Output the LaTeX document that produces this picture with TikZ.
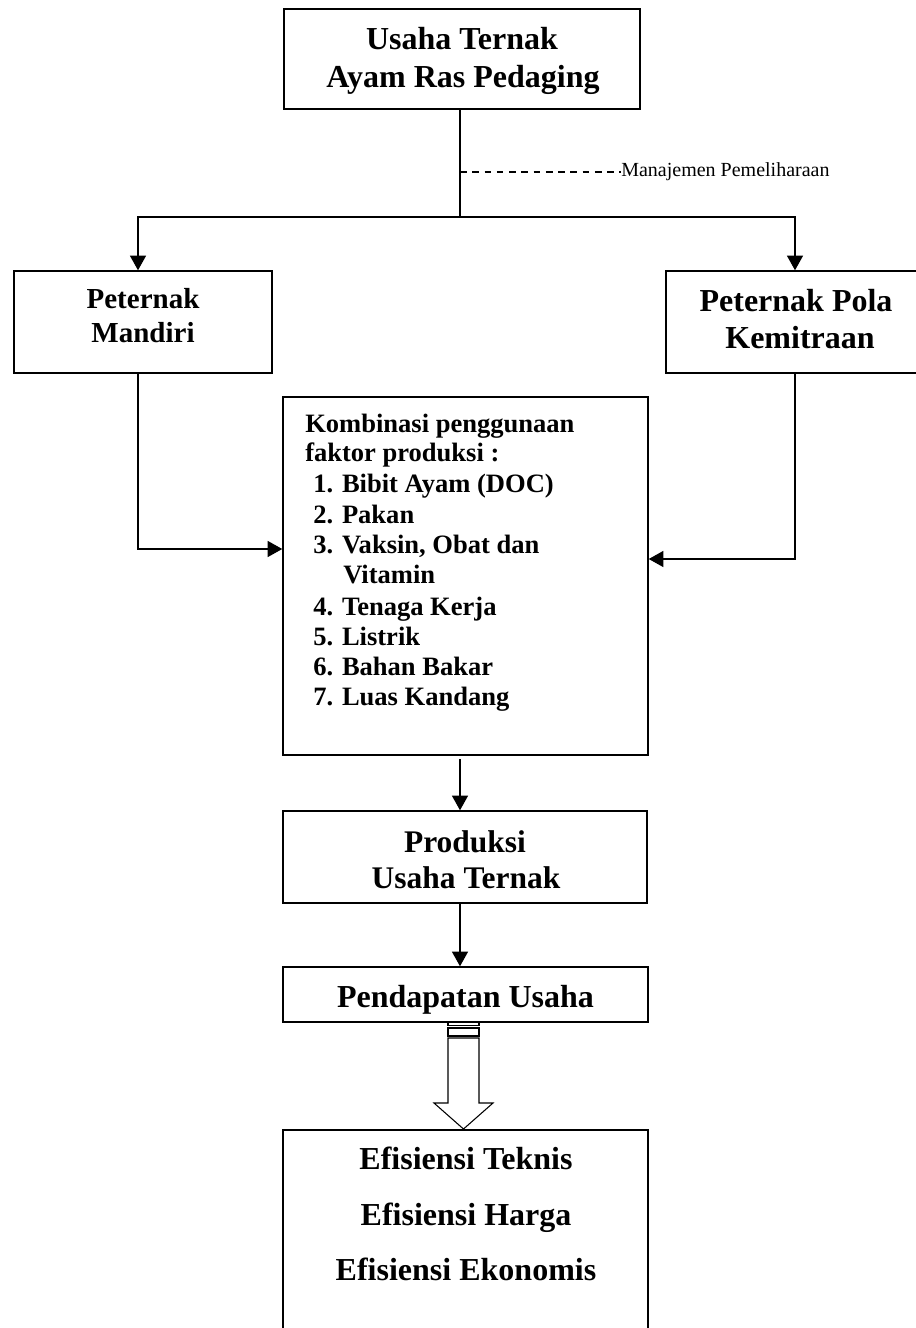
\documentclass[tikz,border=0pt]{standalone}
\usepackage{fontspec}
\setmainfont{Liberation Serif}
\usetikzlibrary{arrows.meta,fit}
\newcommand\fsz[1]{\fontsize{#1}{#1}\selectfont}
\begin{document}
\begin{tikzpicture}[x=0.75pt,y=-0.75pt,
  box/.style={draw,line width=1.1pt,inner sep=0pt},
  conn/.style={line width=1.1pt},
  arr/.style={line width=1.1pt,-{Triangle[length=11pt,width=12pt]}},
  txt/.style={inner sep=0pt,anchor=base,font=\bfseries},
  ltxt/.style={inner sep=0pt,anchor=base west,font=\bfseries\fsz{19.9pt}},
  blk/.style={draw,line width=0.8pt,fill=white}
]
\useasboundingbox (0,0) rectangle (915,1328);

% boxes
\node[box,fit={(284,9)(640,109)}] (top) {};
\node[box,fit={(14,271)(272,373)}] (mandiri) {};
\node[box,fit={(666,271)(922,373)}] (mitra) {};
\node[box,fit={(283,397)(648,755)}] (komb) {};
\node[box,fit={(283,811)(647,903)}] (prod) {};
\node[box,fit={(283,967)(648,1022)}] (pend) {};
\node[box,fit={(283,1130)(648,1345)}] (efis) {};

% texts
\node[txt,font=\bfseries\fsz{24pt}] (t1) at (462,49) {Usaha Ternak};
\node[txt,font=\bfseries\fsz{24pt}] (t2) at (463,87) {Ayam Ras Pedaging};
\node[txt,font=\bfseries\fsz{21.75pt}] (m1) at (143,308) {Peternak};
\node[txt,font=\bfseries\fsz{21.75pt}] (m2) at (143,342) {Mandiri};
\node[txt,font=\bfseries\fsz{24pt}] (k1) at (796,311) {Peternak Pola};
\node[txt,font=\bfseries\fsz{24pt}] (k2) at (800,348) {Kemitraan};

\node[ltxt] (c1) at (305,432) {Kombinasi penggunaan};
\node[ltxt] (c2) at (305,461) {faktor produksi :};
\node[ltxt] (c3) at (313,492) {1. Bibit Ayam (DOC)};
\node[ltxt] (c4) at (313,523) {2. Pakan};
\node[ltxt] (c5) at (313,553) {3. Vaksin, Obat dan};
\node[ltxt] (c6) at (343,583) {Vitamin};
\node[ltxt] (c7) at (313,615) {4. Tenaga Kerja};
\node[ltxt] (c8) at (313,645) {5. Listrik};
\node[ltxt] (c9) at (313,675) {6. Bahan Bakar};
\node[ltxt] (c10) at (313,705) {7. Luas Kandang};

\node[txt,font=\bfseries\fsz{23.6pt}] (p1) at (465,852) {Produksi};
\node[txt,font=\bfseries\fsz{23.6pt}] (p2) at (466,888) {Usaha Ternak};
\node[txt,font=\bfseries\fsz{24pt}] (pd) at (465.5,1007) {Pendapatan Usaha};
\node[txt,font=\bfseries\fsz{24pt}] (e1) at (466,1169) {Efisiensi Teknis};
\node[txt,font=\bfseries\fsz{24pt}] (e2) at (466,1225) {Efisiensi Harga};
\node[txt,font=\bfseries\fsz{24pt}] (e3) at (466,1280) {Efisiensi Ekonomis};

\node[inner sep=0pt,anchor=west,font=\fsz{15pt}] (mp) at (621,172) {Manajemen Pemeliharaan};

% connectors
\coordinate (s0) at (460,109);
\coordinate (s1) at (460,217);
\coordinate (d0) at (460,172);
\coordinate (lj) at (138,217);
\coordinate (rj) at (795,217);
\draw[conn] (s0) -- (s1);
\draw[line width=0.9pt,dash pattern=on 5pt off 4.2pt] (d0) -- (mp.west);
\draw[arr] (s1) -- (lj) -- (lj |- mandiri.north);
\draw[arr] (s1) -- (rj) -- (rj |- mitra.north);

\coordinate (lm) at (138,549);
\coordinate (rm) at (795,559);
\draw[arr] (lm |- mandiri.south) -- (lm) -- (lm -| komb.west);
\draw[arr] (rm |- mitra.south) -- (rm) -- (rm -| komb.east);

\coordinate (v1) at (460,759);
\draw[arr] (v1) -- (v1 |- prod.north);
\coordinate (v2) at (460,903);
\draw[arr] (v2) -- (v2 |- pend.north);

% striped block arrow
\draw[blk] (448,1022) rectangle (479,1025.5);
\draw[blk] (448,1028) rectangle (479,1036);
\draw[blk] (448,1038) -- (479,1038) -- (479,1103) -- (493,1103) -- (463.5,1129) -- (434,1103) -- (448,1103) -- cycle;
\end{tikzpicture}
\end{document}
